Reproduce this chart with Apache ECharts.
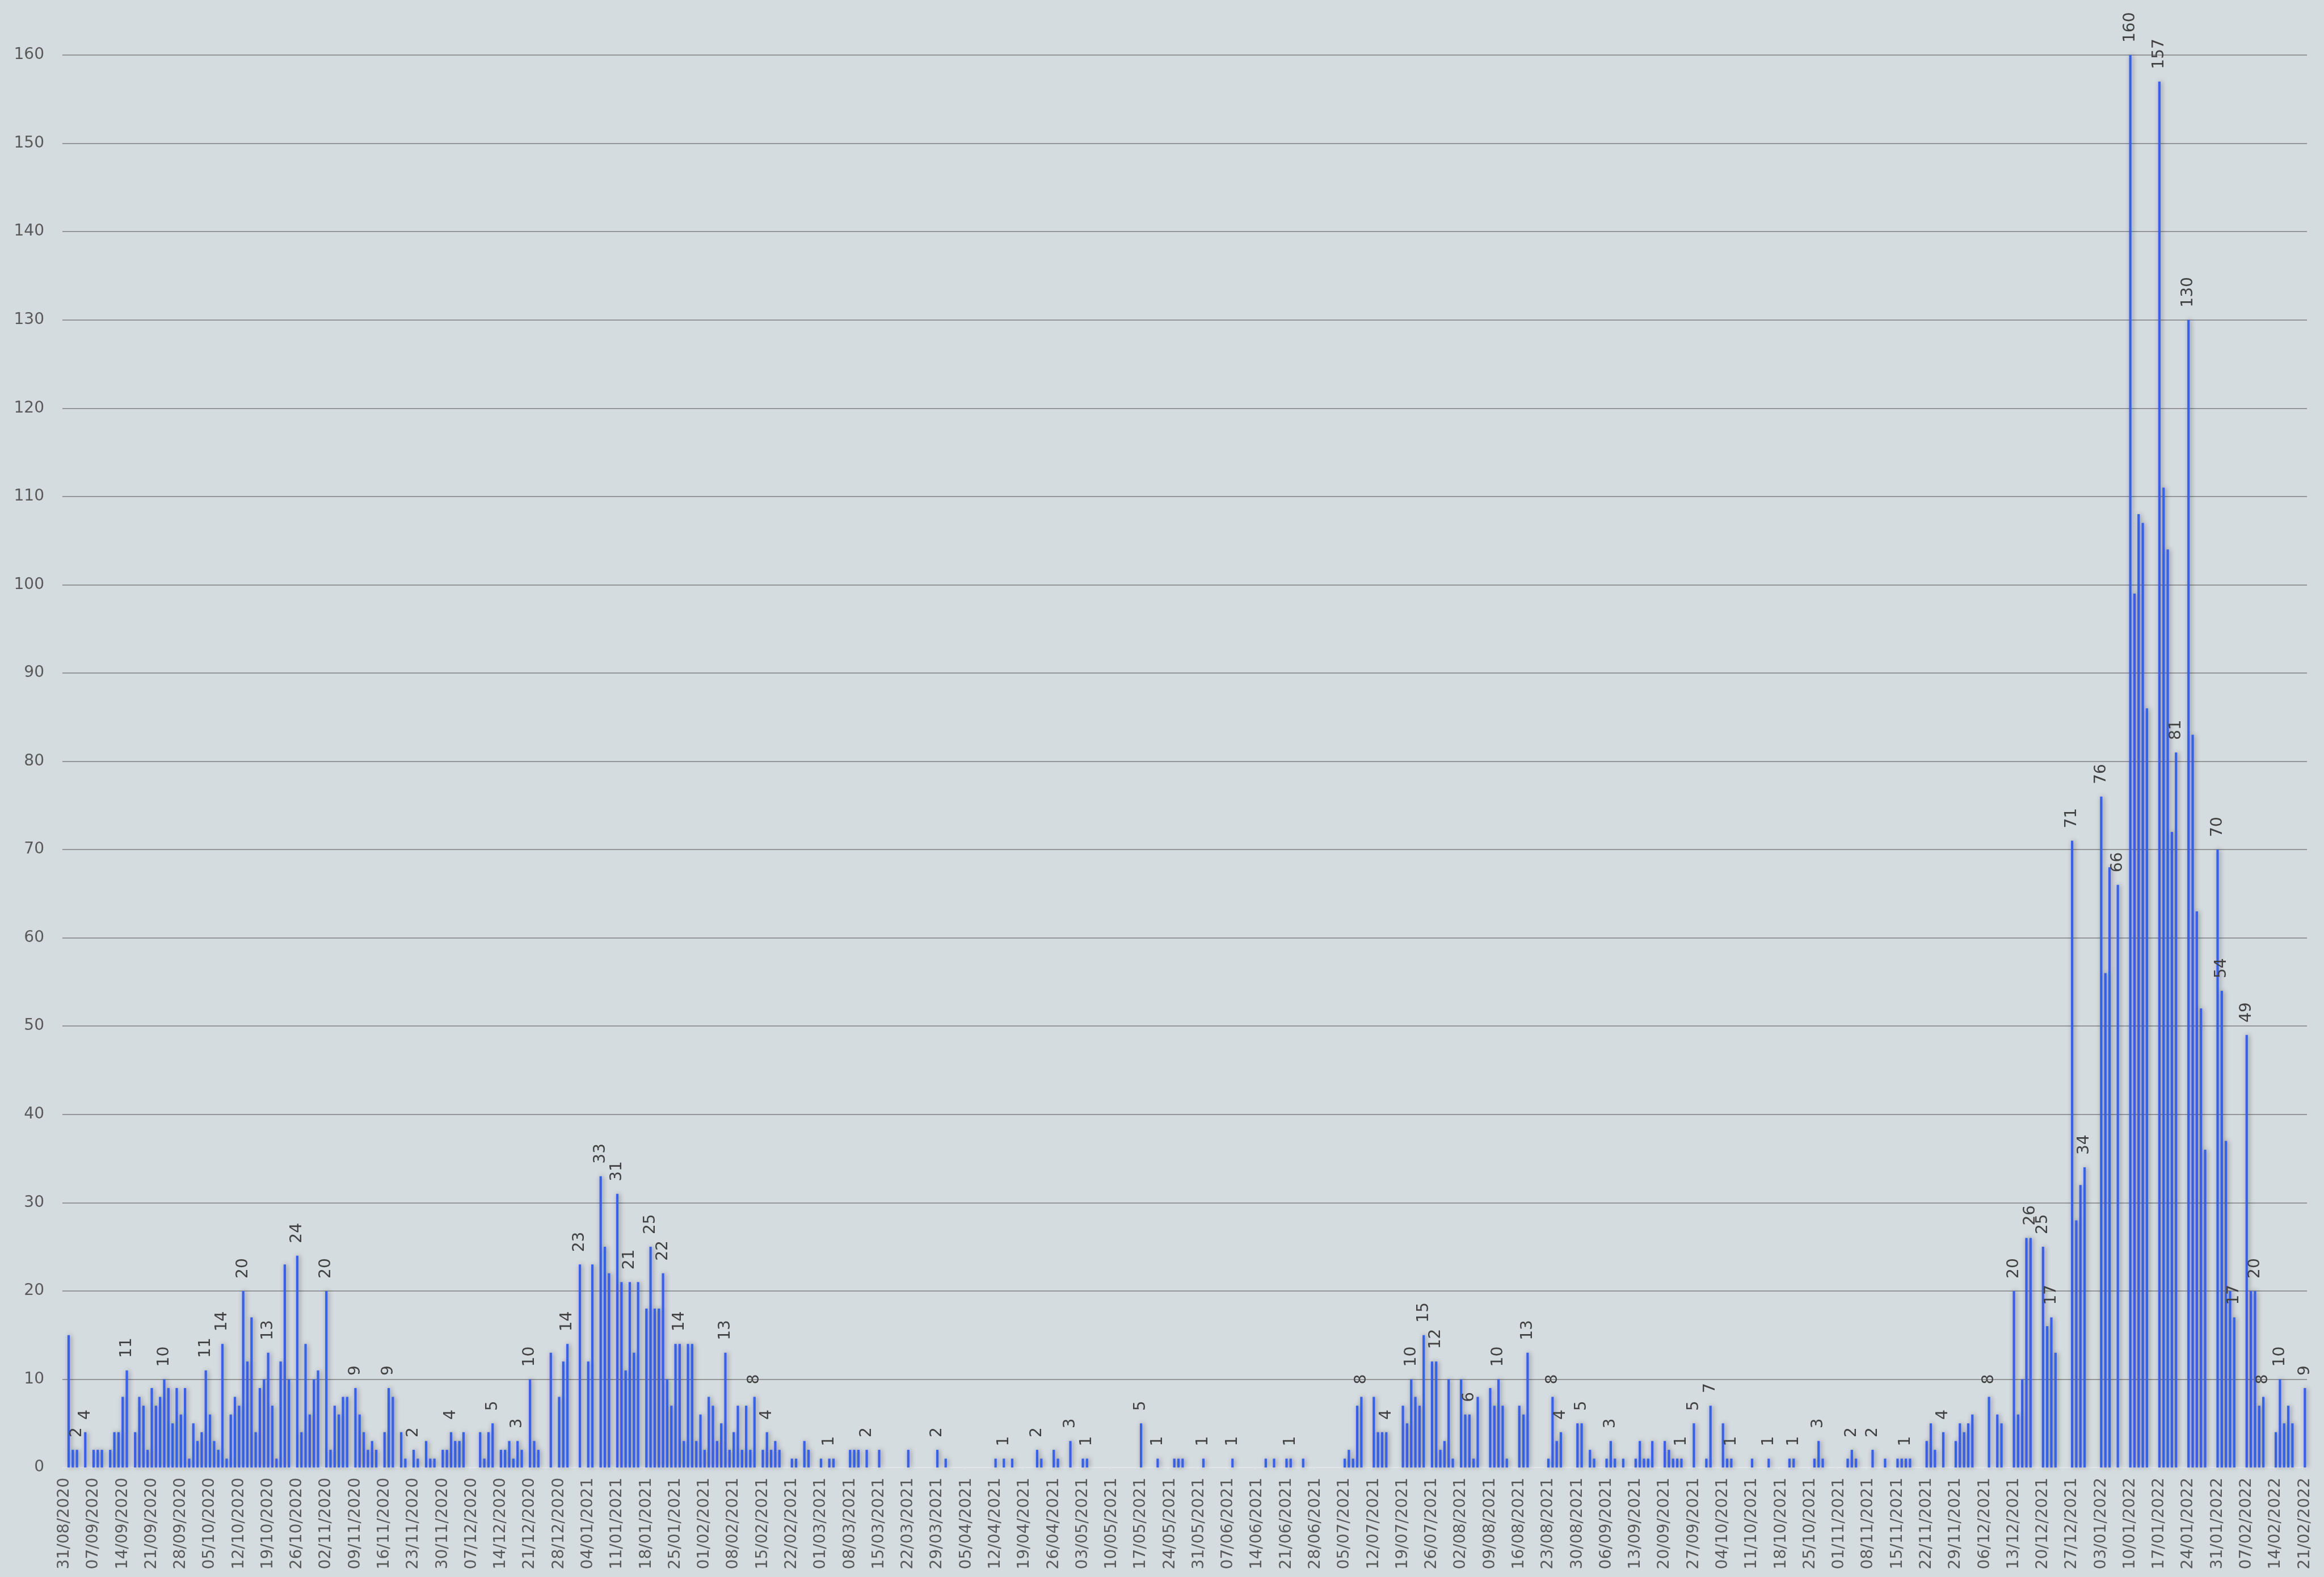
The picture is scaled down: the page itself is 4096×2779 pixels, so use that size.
<!DOCTYPE html>
<html>
<head>
<meta charset="utf-8">
<script src="https://cdn.jsdelivr.net/npm/echarts@6/dist/echarts.min.js"></script>
<style>
  html, body { margin: 0; padding: 0; background: #d5dce0; }
  #chart { width: 4096px; height: 2779px; }
</style>
</head>
<body>
<div id="chart"></div>
<script>
// daily counts, one per day from 31/08/2020 to 21/02/2022
var counts = [
  0,15,2,2,0,4,0,2,2,2,
  0,2,4,4,8,11,0,4,8,7,
  2,9,7,8,10,9,5,9,6,9,
  1,5,3,4,11,6,3,2,14,1,
  6,8,7,20,12,17,4,9,10,13,
  7,1,12,23,10,0,24,4,14,6,
  10,11,0,20,2,7,6,8,8,0,
  9,6,4,2,3,2,0,4,9,8,
  0,4,1,0,2,1,0,3,1,1,
  0,2,2,4,3,3,4,0,0,0,
  4,1,4,5,0,2,2,3,1,3,
  2,0,10,3,2,0,0,13,0,8,
  12,14,0,0,23,0,12,23,0,33,
  25,22,0,31,21,11,21,13,21,0,
  18,25,18,18,22,10,7,14,14,3,
  14,14,3,6,2,8,7,3,5,13,
  2,4,7,2,7,2,8,0,2,4,
  2,3,2,0,0,1,1,0,3,2,
  0,0,1,0,1,1,0,0,0,2,
  2,2,0,2,0,0,2,0,0,0,
  0,0,0,2,0,0,0,0,0,0,
  2,0,1,0,0,0,0,0,0,0,
  0,0,0,0,1,0,1,0,1,0,
  0,0,0,0,2,1,0,0,2,1,
  0,0,3,0,0,1,1,0,0,0,
  0,0,0,0,0,0,0,0,0,5,
  0,0,0,1,0,0,0,1,1,1,
  0,0,0,0,1,0,0,0,0,0,
  0,1,0,0,0,0,0,0,0,1,
  0,1,0,0,1,1,0,0,1,0,
  0,0,0,0,0,0,0,0,1,2,
  1,7,8,0,0,8,4,4,4,0,
  0,0,7,5,10,8,7,15,0,12,
  12,2,3,10,1,0,10,6,6,1,
  8,0,0,9,7,10,7,1,0,0,
  7,6,13,0,0,0,0,1,8,3,
  4,0,0,0,5,5,0,2,1,0,
  0,1,3,1,0,1,0,0,1,3,
  1,1,3,0,0,3,2,1,1,1,
  0,0,5,0,0,1,7,0,0,5,
  1,1,0,0,0,0,1,0,0,0,
  1,0,0,0,0,1,1,0,0,0,
  0,1,3,1,0,0,0,0,0,1,
  2,1,0,0,0,2,0,0,1,0,
  0,1,1,1,1,0,0,0,3,5,
  2,0,4,0,0,3,5,4,5,6,
  0,0,0,8,0,6,5,0,0,20,
  6,10,26,26,0,0,25,16,17,13,
  0,0,0,71,28,32,34,0,0,0,
  76,56,68,0,66,0,0,160,99,108,
  107,86,0,0,157,111,104,72,81,0,
  0,130,83,63,52,36,0,0,70,54,
  37,20,17,0,0,49,20,20,7,8,
  0,0,4,10,5,7,5,0,0,9
];

// days (index into counts) that carry a value label
var labelledDays = [3,5,15,24,34,38,43,49,56,63,70,78,84,93,103,109,112,121,124,129,
  133,136,141,144,148,159,166,169,184,193,210,226,234,242,246,259,263,274,281,295,
  312,318,324,327,330,338,345,352,358,360,365,372,389,392,396,401,410,416,422,430,
  435,443,452,463,469,473,476,478,483,486,490,494,497,504,508,511,518,519,522,525,
  527,529,533,539];

var firstDay = [2020, 8, 31];   // year, month, day
var yMax = 160;
var yStep = 10;

function pad(n) { return n < 10 ? '0' + n : '' + n; }

// category labels dd/mm/yyyy
var days = [];
var t0 = Date.UTC(firstDay[0], firstDay[1] - 1, firstDay[2]);
for (var i = 0; i < counts.length; i++) {
  var d = new Date(t0 + i * 86400000);
  days.push(pad(d.getUTCDate()) + '/' + pad(d.getUTCMonth() + 1) + '/' + d.getUTCFullYear());
}

var chart = echarts.init(document.getElementById('chart'), null, { renderer: 'canvas' });

chart.setOption({
  animation: false,
  backgroundColor: '#d5dce0',
  textStyle: { fontFamily: 'DejaVu Sans' },
  grid: { left: 110, right: 30, top: 97, bottom: 193, containLabel: false },
  xAxis: {
    type: 'category',
    data: days,
    axisLine: { lineStyle: { color: '#e2e5e8', width: 2 } },
    axisTick: { show: true, interval: 6, length: 4, lineStyle: { color: '#e2e5e8' } },
    axisLabel: {
      interval: 6,
      rotate: 90,
      margin: 18,
      fontSize: 28,
      color: '#595959',
      fontFamily: 'DejaVu Sans'
    }
  },
  yAxis: {
    type: 'value',
    min: 0,
    max: yMax,
    interval: yStep,
    axisLine: { show: false },
    axisTick: { show: false },
    axisLabel: { margin: 32, fontSize: 28, color: '#595959', fontFamily: 'DejaVu Sans' },
    splitLine: { lineStyle: { color: '#7f7f7f', width: 1.5 } }
  },
  series: [{
    type: 'bar',
    barWidth: 4.2,
    itemStyle: {
      color: '#3560f6',
      shadowColor: 'rgba(0,0,0,0.4)',
      shadowBlur: 9,
      shadowOffsetX: 2
    },
    label: {
      position: 'top',
      rotate: 90,
      align: 'left',
      verticalAlign: 'middle',
      distance: 22,
      fontSize: 28,
      color: '#404040',
      fontFamily: 'DejaVu Sans'
    },
    data: counts.map(function (v, i) {
      return {
        value: v === 0 ? null : v,
        label: { show: labelledDays.indexOf(i) >= 0 }
      };
    })
  }]
});
</script>
</body>
</html>
